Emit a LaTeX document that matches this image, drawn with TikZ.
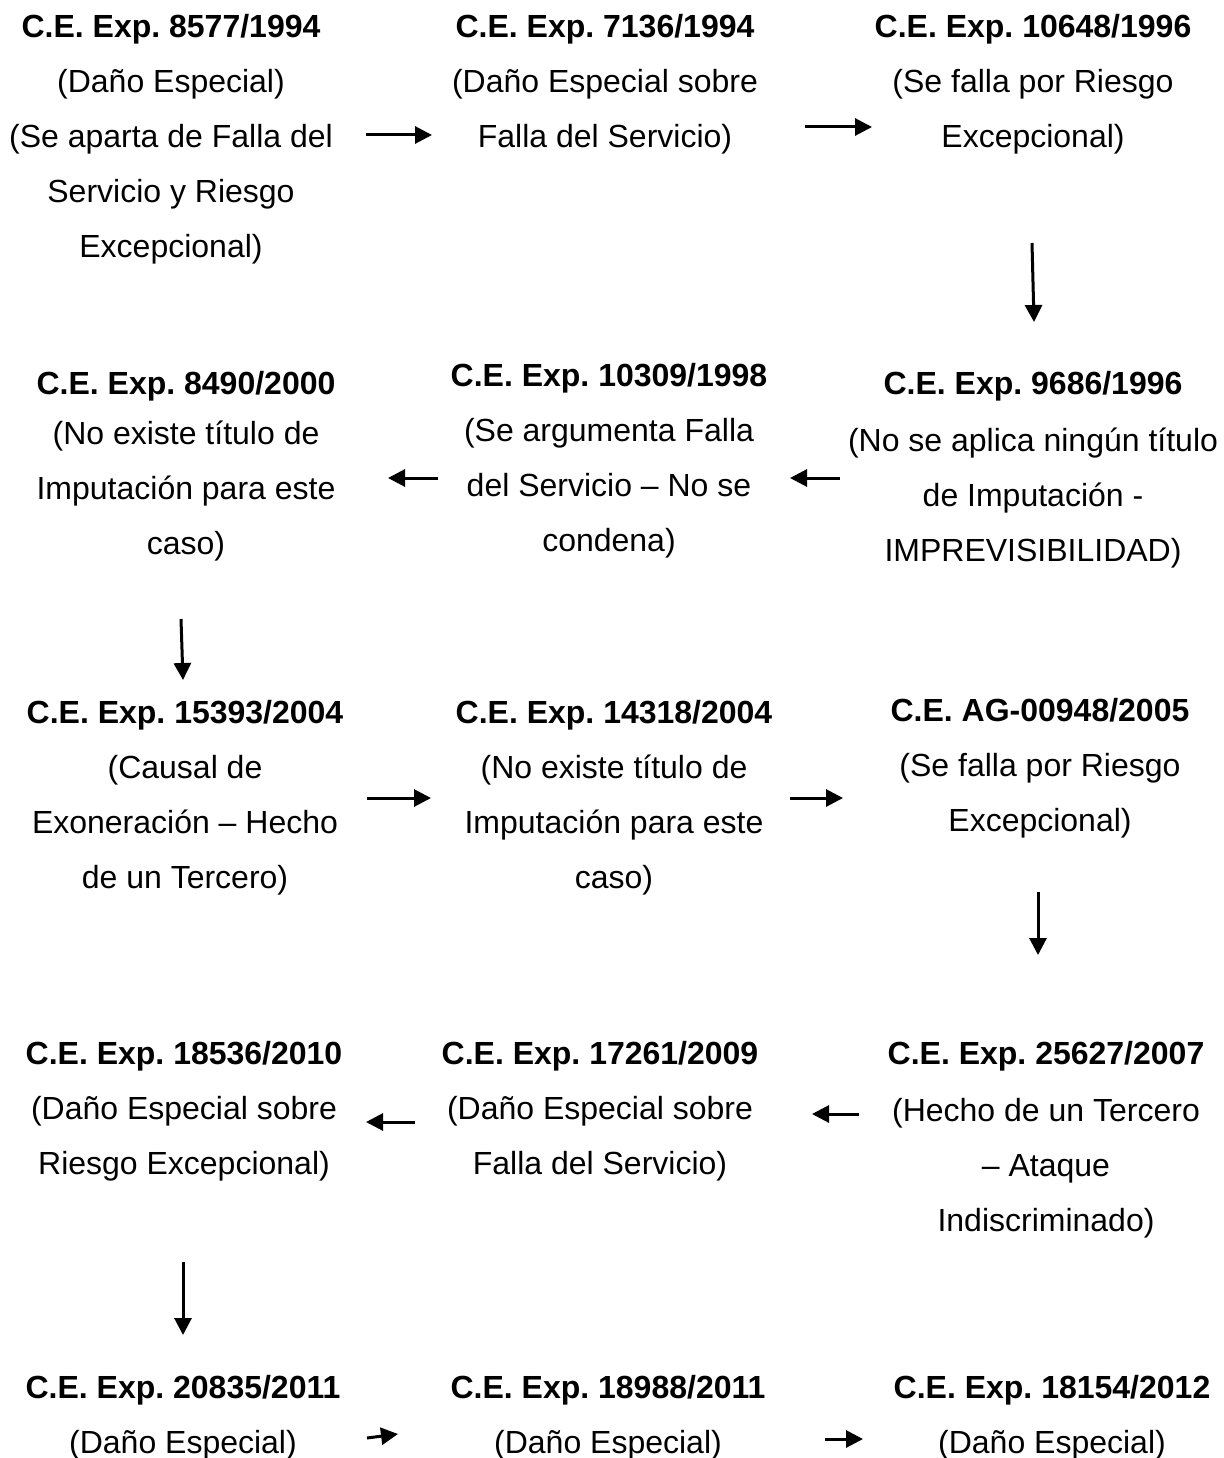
\documentclass[tikz,border=0pt]{standalone}
\usepackage{fontspec}
\setmainfont{Liberation Sans}
\usetikzlibrary{arrows.meta}
\newcommand\cebox[1]{\begin{tabular}[t]{@{}c@{}}#1\end{tabular}}
\frenchspacing
\begin{document}
\begin{tikzpicture}[x=1pt,y=-1pt,
  blk/.style={anchor=base, inner sep=0pt, font=\fontsize{32}{55}\selectfont\frenchspacing},
  arr/.style={line width=3pt, -{Triangle[length=17pt,width=17pt]}}]
\useasboundingbox (0,0) rectangle (1223,1458);
% Row 1
\node[blk] (n1) at (171,38) {\cebox{\textbf{C.E. Exp. 8577/1994}\\(Daño Especial)\\(Se aparta de Falla del\\Servicio y Riesgo\\Excepcional)}};
\node[blk] (n2) at (605,38) {\cebox{\textbf{C.E. Exp. 7136/1994}\\(Daño Especial sobre\\Falla del Servicio)}};
\node[blk] (n3) at (1033,38) {\cebox{\textbf{C.E. Exp. 10648/1996}\\(Se falla por Riesgo\\Excepcional)}};
% Row 2
\node[blk] (n6) at (186,394) {\cebox{\textbf{C.E. Exp. 8490/2000}\\[-5pt](No existe título de\\Imputación para este\\caso)}};
\node[blk] (n5) at (609,386) {\cebox{\textbf{C.E. Exp. 10309/1998}\\(Se argumenta Falla\\del Servicio – No se\\condena)}};
\node[blk] (n4) at (1033,394) {\cebox{\textbf{C.E. Exp. 9686/1996}\\[2pt](No se aplica ningún título\\de Imputación -\\IMPREVISIBILIDAD)}};
% Row 3
\node[blk] (n7) at (185,723) {\cebox{\textbf{C.E. Exp. 15393/2004}\\(Causal de\\Exoneración – Hecho\\de un Tercero)}};
\node[blk] (n8) at (614,723) {\cebox{\textbf{C.E. Exp. 14318/2004}\\(No existe título de\\Imputación para este\\caso)}};
\node[blk] (n9) at (1040,721) {\cebox{\textbf{C.E. AG-00948/2005}\\(Se falla por Riesgo\\Excepcional)}};
% Row 4
\node[blk] (n12) at (184,1064) {\cebox{\textbf{C.E. Exp. 18536/2010}\\(Daño Especial sobre\\Riesgo Excepcional)}};
\node[blk] (n11) at (600,1064) {\cebox{\textbf{C.E. Exp. 17261/2009}\\(Daño Especial sobre\\Falla del Servicio)}};
\node[blk] (n10) at (1046,1064) {\cebox{\textbf{C.E. Exp. 25627/2007}\\[2pt](Hecho de un Tercero\\– Ataque\\Indiscriminado)}};
% Row 5
\node[blk] (n13) at (183,1398) {\cebox{\textbf{C.E. Exp. 20835/2011}\\(Daño Especial)}};
\node[blk] (n14) at (608,1398) {\cebox{\textbf{C.E. Exp. 18988/2011}\\(Daño Especial)}};
\node[blk] (n15) at (1052,1398) {\cebox{\textbf{C.E. Exp. 18154/2012}\\(Daño Especial)}};
% arrow end points
\coordinate (a1s) at (366,135);  \coordinate (a1e) at (432,135);
\coordinate (a2s) at (805,127);  \coordinate (a2e) at (872,127);
\coordinate (a3s) at (1032,243); \coordinate (a3e) at (1034,322);
\coordinate (a4s) at (840,478);  \coordinate (a4e) at (790,478);
\coordinate (a5s) at (438,478);  \coordinate (a5e) at (388,478);
\coordinate (a6s) at (181,619);  \coordinate (a6e) at (183,680);
\coordinate (a7s) at (367,798);  \coordinate (a7e) at (431,798);
\coordinate (a8s) at (790,798);  \coordinate (a8e) at (843,798);
\coordinate (a9s) at (1038,892); \coordinate (a9e) at (1038,955);
\coordinate (a10s) at (859,1114); \coordinate (a10e) at (812,1114);
\coordinate (a11s) at (415,1122); \coordinate (a11e) at (366,1122);
\coordinate (a12s) at (183,1262); \coordinate (a12e) at (183,1335);
\coordinate (a13s) at (367,1438); \coordinate (a13e) at (398,1434);
\coordinate (a14s) at (825,1439); \coordinate (a14e) at (863,1439);
\foreach \i in {1,...,14} \draw[arr] (a\i s) -- (a\i e);
\end{tikzpicture}
\end{document}
